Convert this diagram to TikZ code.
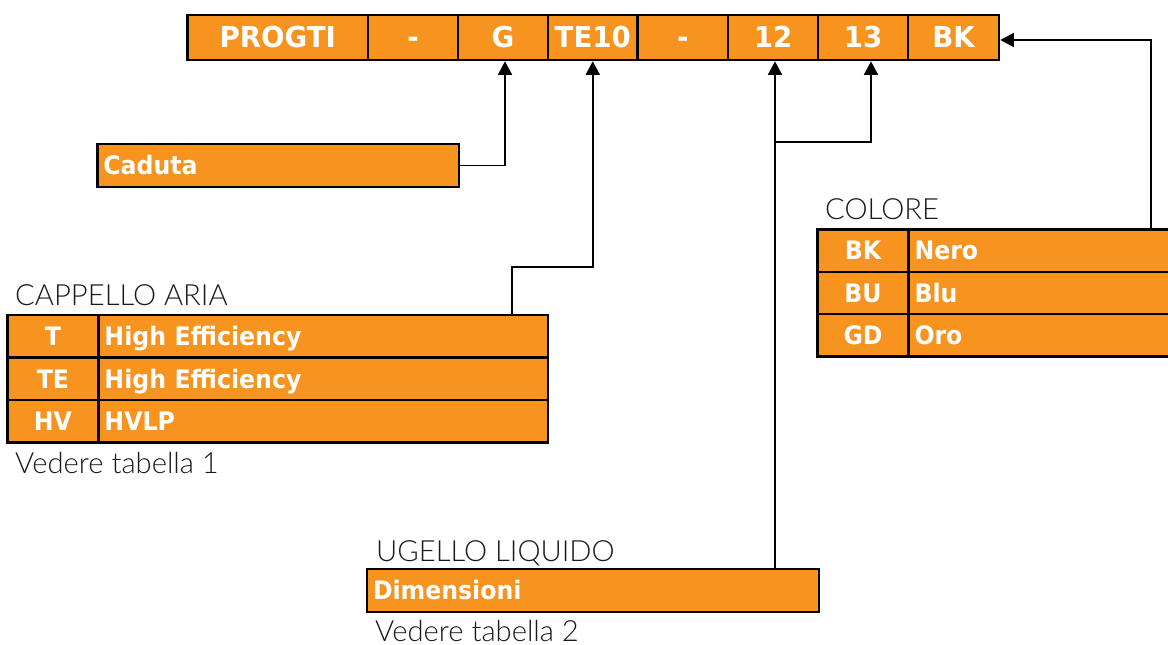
\documentclass[tikz,border=0pt]{standalone}
\usepackage{fontspec}
\usetikzlibrary{arrows.meta,calc}
\newfontfamily\barfont[FakeStretch=0.96]{DejaVu Sans Bold}
\newfontfamily\tabfont[FakeStretch=0.93]{DejaVu Sans Bold}
\newfontfamily\lightfont{Lato Light}
\definecolor{orgc}{RGB}{247,148,32}
\tikzset{
  x=1bp, y=-1bp,
  boxbase/.style={draw=black, line width=2.6bp, fill=orgc, text=white, inner sep=0pt},
  barcell/.style={boxbase, minimum height=45bp, font=\barfont\fontsize{28.9}{30}\selectfont, text height=21bp, text depth=0pt},
  ccell/.style={boxbase, minimum height=42.5bp, font=\tabfont\fontsize{25.5}{27}\selectfont, text height=18.5bp, text depth=0pt},
  lcell/.style={boxbase, minimum height=42.5bp, inner xsep=6bp, align=left, text width=#1, font=\tabfont\fontsize{25.5}{27}\selectfont, text height=18.5bp, text depth=0pt},
  lbl/.style={anchor=base west, inner sep=0pt, font=\lightfont\fontsize{29.3}{31}\selectfont, text=black!90},
  arr/.style={-{Triangle[width=14bp,length=13.5bp]}, line width=1.5bp}
}
\begin{document}
\begin{tikzpicture}
\useasboundingbox (0,0) rectangle (1168,645);
\clip (0,0) rectangle (1168,645);
% top code bar
\node[barcell, minimum width=180.5bp] (progti) at (277.75,37.5) {PROGTI};
\node[barcell, minimum width=90bp] (d1) at (413,37.5) {-};
\node[barcell, minimum width=90bp] (g) at (503,37.5) {G};
\node[barcell, minimum width=89.5bp] (te10) at (592.75,37.5) {TE10};
\node[barcell, minimum width=90.5bp] (d2) at (682.75,37.5) {-};
\node[barcell, minimum width=90bp] (n12) at (773,37.5) {12};
\node[barcell, minimum width=90bp] (n13) at (863,37.5) {13};
\node[barcell, minimum width=91bp] (bk) at (953.5,37.5) {BK};
% Caduta
\node[lcell=349.7bp, minimum height=43bp] (cad) at (278.2,165.5) {Caduta};
% Cappello aria
\node[lbl] (capttl) at (15,306) {CAPPELLO ARIA};
\node[ccell, minimum width=91bp] (cT) at (53,336.25) {T};
\node[ccell, minimum width=91bp] (cTE) at (53,378.75) {TE};
\node[ccell, minimum width=91bp] (cHV) at (53,421.25) {HV};
\node[lcell=437.5bp] (dT) at (323.25,336.25) {High Efficiency};
\node[lcell=437.5bp] (dTE) at (323.25,378.75) {High Efficiency};
\node[lcell=437.5bp] (dHV) at (323.25,421.25) {HVLP};
\node[lbl] (capnote) at (15,473) {Vedere tabella 1};
% Colore
\node[lbl] (colttl) at (825,219.3) {COLORE};
\node[ccell, minimum width=91bp, minimum height=42.33bp] (kBK) at (863,250.67) {BK};
\node[ccell, minimum width=91bp, minimum height=42.33bp] (kBU) at (863,293) {BU};
\node[ccell, minimum width=91bp, minimum height=42.33bp] (kGD) at (863,335.33) {GD};
\node[lcell=254.5bp, minimum height=42.33bp] (vBK) at (1041.75,250.67) {Nero};
\node[lcell=254.5bp, minimum height=42.33bp] (vBU) at (1041.75,293) {Blu};
\node[lcell=254.5bp, minimum height=42.33bp] (vGD) at (1041.75,335.33) {Oro};
% Ugello liquido
\node[lbl] (ugttl) at (376,561.7) {UGELLO LIQUIDO};
\node[lcell=440bp, minimum height=43bp] (ug) at (593,590.5) {Dimensioni};
\node[lbl] (ugnote) at (375,641.5) {Vedere tabella 2};
% connector points
\coordinate (gArr) at ($(g.south)+(2,0)$);
\coordinate (a12) at ($(n12.south)+(2,0)$);
\coordinate (a13) at ($(n13.south)+(8,0)$);
\coordinate (bkArr) at ($(bk.east)+(0,2.5)$);
\coordinate (capA) at (512,313.7);
\coordinate (capBend) at (512,267);
\coordinate (ugTop) at (a12 |- ug.north);
\coordinate (branch) at (775,142);
\coordinate (colTop) at (1151,228.2);
% connectors
\draw[arr] (cad.east) -| (gArr);
\draw[arr] (capA) -- (capBend) -| (te10.south);
\draw[arr] (ugTop) -- (a12);
\draw[arr] (branch) -| (a13);
\draw[arr] (colTop) |- (bkArr);
\end{tikzpicture}
\end{document}
